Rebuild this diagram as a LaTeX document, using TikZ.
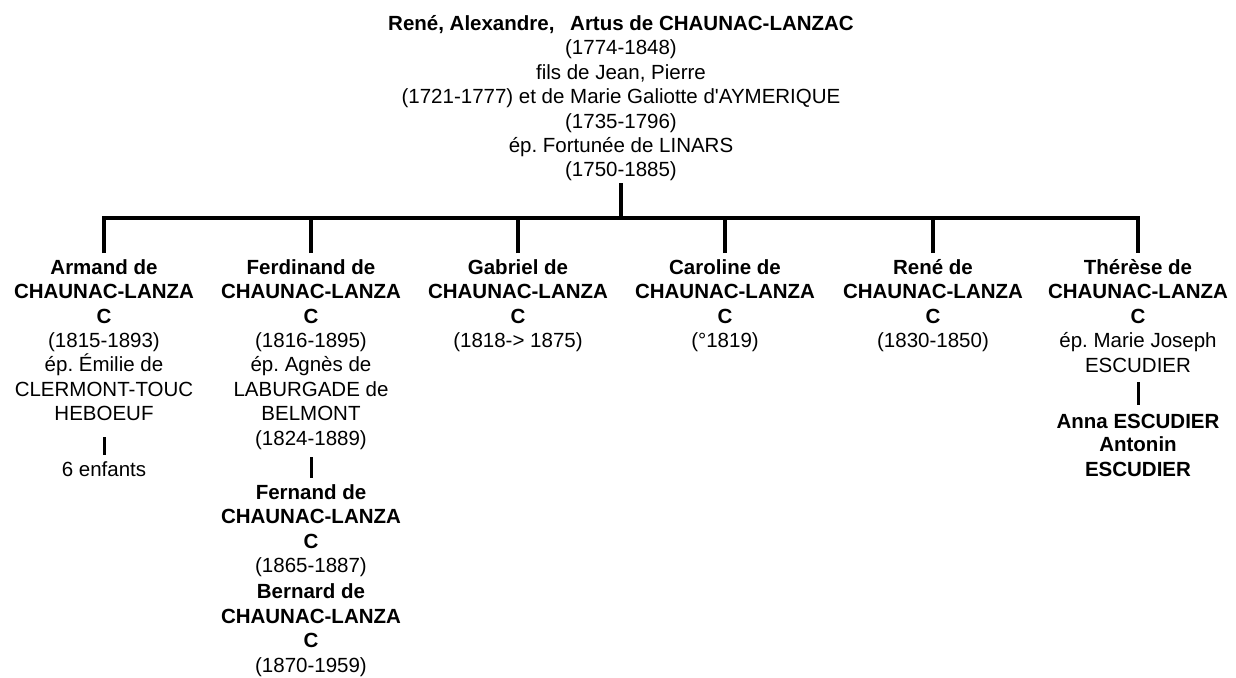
\documentclass[tikz,border=0pt]{standalone}
\usepackage{fontspec}
\setmainfont{Liberation Sans}
\frenchspacing
\newcommand{\bl}[1]{\textbf{#1}}
\begin{document}
\begin{tikzpicture}[x=1pt,y=-1pt,
  txt/.style={anchor=north, inner sep=0pt, align=center,
    font=\fontsize{20.5}{24.4}\selectfont,
    execute at begin node={\rule{0pt}{16pt}}},
  namebold/.style={txt, font=\fontsize{20.5}{24.4}\selectfont\bfseries},
  link/.style={line width=4pt, line join=miter},
  sublink/.style={line width=3pt}]
\useasboundingbox (0,0) rectangle (1236,677);

% parent
\node[txt] (rene) at (621,15.2) {\bl{René, Alexandre,\hspace{10pt} Artus de CHAUNAC-LANZAC}\\(1774-1848)\\fils de Jean, Pierre\\(1721-1777) et de Marie Galiotte d\textquotesingle AYMERIQUE\\(1735-1796)\\ép. Fortunée de LINARS\\(1750-1885)};

% children
\node[txt] (armand) at (104,259.2) {\bl{Armand de}\\\bl{CHAUNAC-LANZA}\\\bl{C}\\(1815-1893)\\ép. Émilie de\\CLERMONT-TOUC\\HEBOEUF};
\node[txt] (ferdinand) at (311,259.2) {\bl{Ferdinand de}\\\bl{CHAUNAC-LANZA}\\\bl{C}\\(1816-1895)\\ép. Agnès de\\LABURGADE de\\BELMONT\\(1824-1889)};
\node[txt] (gabriel) at (518,259.2) {\bl{Gabriel de}\\\bl{CHAUNAC-LANZA}\\\bl{C}\\(1818-> 1875)};
\node[txt] (caroline) at (725,259.2) {\bl{Caroline de}\\\bl{CHAUNAC-LANZA}\\\bl{C}\\(°1819)};
\node[txt] (renefils) at (933,259.2) {\bl{René de}\\\bl{CHAUNAC-LANZA}\\\bl{C}\\(1830-1850)};
\node[txt] (therese) at (1138,259.2) {\bl{Thérèse de}\\\bl{CHAUNAC-LANZA}\\\bl{C}\\ép. Marie Joseph\\ESCUDIER};

% grandchildren
\node[txt] (enfants) at (104,460.2) {6 enfants};
\node[txt] (fernand) at (311,484.2) {\bl{Fernand de}\\\bl{CHAUNAC-LANZA}\\\bl{C}\\(1865-1887)};
\node[txt] (bernard) at (311,583.8) {\bl{Bernard de}\\\bl{CHAUNAC-LANZA}\\\bl{C}\\(1870-1959)};
\node[namebold] (anna) at (1138,412.2) {Anna ESCUDIER};
\node[namebold] (antonin) at (1138,436.6) {Antonin\\ESCUDIER};

% connector points
\coordinate (pt) at (621,183);
\coordinate (bar) at (621,218);
\coordinate (k1) at (104,253);
\coordinate (k2) at (311,253);
\coordinate (k3) at (518,253);
\coordinate (k4) at (725,253);
\coordinate (k5) at (933,253);
\coordinate (k6) at (1138,253);
\coordinate (a1) at (104,437);
\coordinate (a2) at (104,455);
\coordinate (f1) at (311,457);
\coordinate (f2) at (311,478);
\coordinate (t1) at (1138,382);
\coordinate (t2) at (1138,405);

\draw[link] (pt) -- (bar);
\draw[link] (k1) -- (k1|-bar) -- (k6|-bar) -- (k6);
\foreach \k in {k2,k3,k4,k5} \draw[link] (\k) -- (\k|-bar);

\draw[sublink] (a1) -- (a2);
\draw[sublink] (f1) -- (f2);
\draw[sublink] (t1) -- (t2);
\end{tikzpicture}
\end{document}
